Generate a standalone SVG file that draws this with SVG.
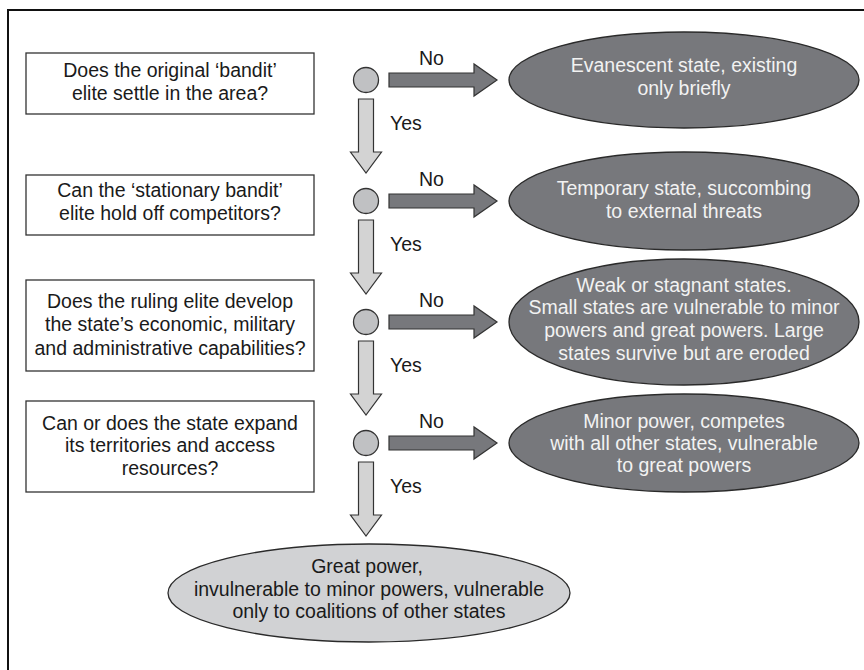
<svg xmlns="http://www.w3.org/2000/svg" width="864" height="670" viewBox="0 0 864 670">
<style>
text{font-family:"Liberation Sans",Arial,Helvetica,sans-serif;font-size:19.5px;text-anchor:middle;fill:#1a1a1a}
.q{fill:#fff;stroke:#333;stroke-width:1.3}
.dk{fill:#77787c;stroke:#2a2a2a;stroke-width:1.3}
.lt{fill:#d1d2d4;stroke:#2a2a2a;stroke-width:1.3}
.dot{fill:#c0c1c3;stroke:#333;stroke-width:1.3}
.down{fill:#d3d3d3;stroke:#333;stroke-width:1.2}
.right{fill:#77787c;stroke:#333;stroke-width:1.2}
text.w{fill:#f2f2f2}
text.l{text-anchor:start}
</style>
<defs>
<path id="da" d="M-7.5,0 H7.5 V53 H15.5 L0,74 L-15.5,53 H-7.5 Z"/>
<path id="ra" d="M0,-7 H85 V-16 L108,0 L85,16 V7 H0 Z"/>
</defs>
<path d="M8,670 V10 H864" fill="none" stroke="#111" stroke-width="2"/>
<g id="q1"><rect class="q" x="26" y="53" width="288" height="61"/><text x="170" y="77">Does the original ‘bandit’</text><text x="170" y="100">elite settle in the area?</text></g>
<g id="q2"><rect class="q" x="26" y="175" width="288" height="60"/><text x="170" y="197">Can the ‘stationary bandit’</text><text x="170" y="220">elite hold off competitors?</text></g>
<g id="q3"><rect class="q" x="26" y="280" width="288" height="91"/><text x="170" y="308">Does the ruling elite develop</text><text x="170" y="331">the state’s economic, military</text><text x="170" y="355">and administrative capabilities?</text></g>
<g id="q4"><rect class="q" x="26" y="401" width="288" height="91"/><text x="170" y="430">Can or does the state expand</text><text x="170" y="452">its territories and access</text><text x="170" y="475">resources?</text></g>
<g id="d1"><circle class="dot" cx="366" cy="80" r="12.5"/></g>
<g id="d2"><circle class="dot" cx="366" cy="201" r="12.5"/></g>
<g id="d3"><circle class="dot" cx="366" cy="322" r="12.5"/></g>
<g id="d4"><circle class="dot" cx="366" cy="443" r="12.5"/></g>
<g id="o1"><ellipse class="dk" cx="684" cy="80" rx="175" ry="48"/><text class="w" x="684" y="72">Evanescent state, existing</text><text class="w" x="684" y="95">only briefly</text></g>
<g id="o2"><ellipse class="dk" cx="684" cy="201" rx="175" ry="49"/><text class="w" x="684" y="195">Temporary state, succombing</text><text class="w" x="684" y="218">to external threats</text></g>
<g id="o3"><ellipse class="dk" cx="684" cy="322" rx="175" ry="63"/><text class="w" x="684" y="292">Weak or stagnant states.</text><text class="w" x="684" y="314">Small states are vulnerable to minor</text><text class="w" x="684" y="337">powers and great powers. Large</text><text class="w" x="684" y="360">states survive but are eroded</text></g>
<g id="o4"><ellipse class="dk" cx="684" cy="443" rx="175" ry="49"/><text class="w" x="684" y="428">Minor power, competes</text><text class="w" x="684" y="450">with all other states, vulnerable</text><text class="w" x="684" y="472">to great powers</text></g>
<g id="o5"><ellipse class="lt" cx="369" cy="593" rx="201" ry="49"/><text x="367" y="573">Great power,</text><text x="369" y="596">invulnerable to minor powers, vulnerable</text><text x="369" y="618">only to coalitions of other states</text></g>
<g id="connectors">
<use href="#da" class="down" x="366" y="99"/>
<use href="#da" class="down" x="366" y="220"/>
<use href="#da" class="down" x="366" y="341"/>
<use href="#da" class="down" x="366" y="462"/>
<use href="#ra" class="right" x="389" y="80"/>
<use href="#ra" class="right" x="389" y="201"/>
<use href="#ra" class="right" x="389" y="322"/>
<use href="#ra" class="right" x="389" y="443"/>
<text class="l" x="390" y="130">Yes</text>
<text class="l" x="390" y="251">Yes</text>
<text class="l" x="390" y="372">Yes</text>
<text class="l" x="390" y="493">Yes</text>
<text class="l" x="419" y="65">No</text>
<text class="l" x="419" y="186">No</text>
<text class="l" x="419" y="307">No</text>
<text class="l" x="419" y="428">No</text>
</g>
</svg>
